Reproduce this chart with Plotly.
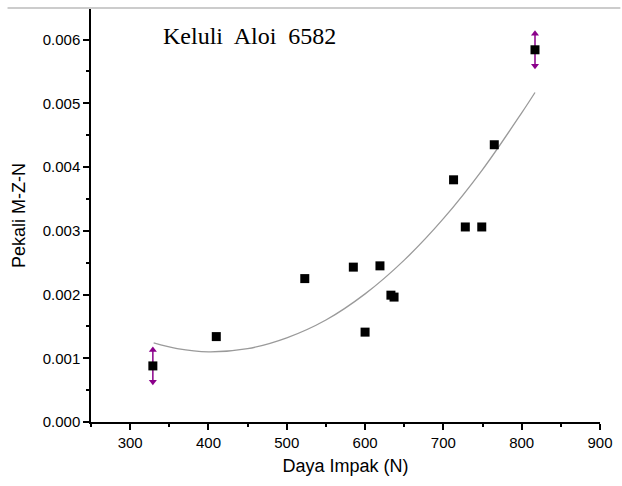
import plotly.graph_objects as go

# Data
impact_force = [329, 410, 523, 585, 600, 619, 633, 637, 713, 728, 749, 765, 817]
mzn_coeff = [0.00088, 0.00134, 0.00225, 0.00243, 0.00141, 0.00245, 0.00199, 0.00196,
             0.00380, 0.00306, 0.00306, 0.00435, 0.00584]
err_vals = [0.00025, 0, 0, 0, 0, 0, 0, 0, 0, 0, 0, 0, 0.00025]

# Fitted curve
fit_x = [330, 360, 400, 450, 500, 550, 600, 650, 700, 750, 800, 817]
fit_y = [0.00124, 0.00115, 0.00110, 0.00115, 0.00132, 0.00160, 0.00201, 0.00254,
         0.00319, 0.00396, 0.00485, 0.00517]

x_ticks = [300, 400, 500, 600, 700, 800, 900]
y_ticks = [0.000, 0.001, 0.002, 0.003, 0.004, 0.005, 0.006]

title_text = "Keluli  Aloi  6582"
x_title = "Daya Impak (N)"
y_title = "Pekali M-Z-N"

purple = "#8B008B"

fig = go.Figure()

fig.add_trace(go.Scatter(
    x=fit_x, y=fit_y, mode="lines", line=dict(color="#9a9a9a", width=1.3, shape="spline"),
    hoverinfo="skip", showlegend=False))

# Error bars (purple) with arrow heads
ex = [x for x, e in zip(impact_force, err_vals) if e > 0]
ey = [y for y, e in zip(mzn_coeff, err_vals) if e > 0]
ee = [e for e in err_vals if e > 0]
fig.add_trace(go.Scatter(
    x=ex, y=ey, mode="markers", marker=dict(size=1, color=purple),
    error_y=dict(type="data", array=ee, visible=True, color=purple, thickness=1.5, width=0),
    showlegend=False, hoverinfo="skip"))
fig.add_trace(go.Scatter(
    x=ex, y=[y + e for y, e in zip(ey, ee)], mode="markers",
    marker=dict(symbol="triangle-up", size=7, color=purple), showlegend=False, hoverinfo="skip"))
fig.add_trace(go.Scatter(
    x=ex, y=[y - e for y, e in zip(ey, ee)], mode="markers",
    marker=dict(symbol="triangle-down", size=7, color=purple), showlegend=False, hoverinfo="skip"))

fig.add_trace(go.Scatter(
    x=impact_force, y=mzn_coeff, mode="markers",
    marker=dict(symbol="square", size=9, color="black"), showlegend=False))

fig.update_layout(
    width=622, height=486,
    margin=dict(l=91, r=19, t=9, b=64),
    paper_bgcolor="white", plot_bgcolor="white",
    font=dict(family="Liberation Sans, Arial, sans-serif", color="black", size=15),
    showlegend=False,
    annotations=[dict(
        text=title_text, x=340, y=0.00605, xref="x", yref="y", xanchor="left", yanchor="middle",
        showarrow=False, font=dict(family="Liberation Serif, Times New Roman, serif", size=24, color="black"))],
    shapes=[
        dict(type="line", xref="paper", yref="paper", x0=-0.164, x1=1.04, y0=1.0025, y1=1.0025,
             line=dict(color="#bbbbbb", width=1.5)),
    ],
)

fig.update_xaxes(
    range=[250, 900], tickvals=x_ticks, ticktext=[str(v) for v in x_ticks],
    showline=True, linecolor="black", linewidth=1.5, showgrid=False, zeroline=False,
    ticks="outside", ticklen=6, tickwidth=1.5, tickcolor="black",
    minor=dict(dtick=50, tick0=250, ticks="outside", ticklen=3, tickwidth=1.5, tickcolor="black", showgrid=False),
    title=dict(text=x_title, font=dict(size=18), standoff=10),
    tickfont=dict(size=15),
)
fig.update_yaxes(
    range=[0, 0.00648], tickvals=y_ticks, ticktext=[f"{v:.3f}" for v in y_ticks],
    showline=True, linecolor="black", linewidth=1.5, showgrid=False, zeroline=False,
    ticks="outside", ticklen=6, tickwidth=1.5, tickcolor="black",
    minor=dict(dtick=0.0005, tick0=0, ticks="outside", ticklen=3, tickwidth=1.5, tickcolor="black", showgrid=False),
    title=dict(text=y_title, font=dict(size=18), standoff=12),
    tickfont=dict(size=15),
)

fig.write_html("out.html")
